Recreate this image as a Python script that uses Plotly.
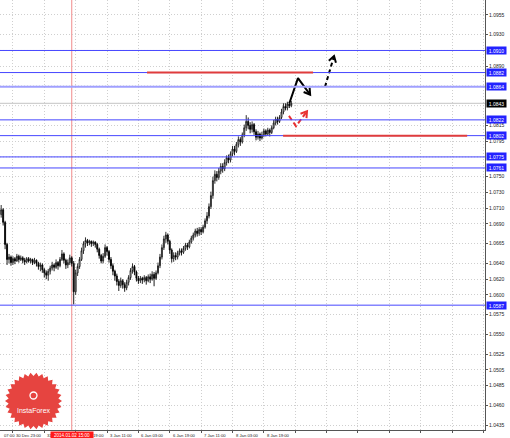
import math
import plotly.graph_objects as go

# ---------------- data (EURUSD H1) ----------------
first_open = 1.0702
closes = [
    1.0708, 1.0692, 1.0664, 1.0645, 1.0648, 1.0641, 1.0646, 1.0643, 1.0649, 1.0645,
    1.0647, 1.0644, 1.0642, 1.0646, 1.0643, 1.0645, 1.0641, 1.0644, 1.0640, 1.0636,
    1.0638, 1.0632, 1.0628, 1.0625, 1.0630, 1.0634, 1.0638, 1.0635, 1.0641, 1.0637,
    1.0645, 1.0652, 1.0644, 1.0638, 1.0641, 1.0647, 1.0640, 1.0604, 1.0628, 1.0636,
    1.0645, 1.0656, 1.0665, 1.0669, 1.0666, 1.0668, 1.0665, 1.0667, 1.0664, 1.0658,
    1.0650, 1.0643, 1.0649, 1.0660, 1.0655, 1.0645, 1.0637, 1.0630, 1.0624, 1.0617,
    1.0612, 1.0618, 1.0613, 1.0609, 1.0616, 1.0622, 1.0631, 1.0636, 1.0629, 1.0621,
    1.0618, 1.0621, 1.0619, 1.0622, 1.0618, 1.0623, 1.0620, 1.0626, 1.0621, 1.0628,
    1.0637, 1.0648, 1.0660, 1.0671, 1.0676, 1.0668, 1.0657, 1.0646, 1.0650, 1.0648,
    1.0653, 1.0656, 1.0654, 1.0659, 1.0663, 1.0661, 1.0667, 1.0672, 1.0676, 1.0681,
    1.0678, 1.0683, 1.0680, 1.0686, 1.0694, 1.0700, 1.0712, 1.0726, 1.0745, 1.0753,
    1.0749, 1.0757, 1.0763, 1.0760, 1.0768, 1.0774, 1.0771, 1.0779, 1.0785, 1.0782,
    1.0791, 1.0797, 1.0794, 1.0803, 1.0812, 1.0820, 1.0815, 1.0810, 1.0816, 1.0807,
    1.0800, 1.0804, 1.0799, 1.0803, 1.0808, 1.0804, 1.0809, 1.0806, 1.0812, 1.0818,
    1.0823, 1.0820, 1.0825, 1.0832, 1.0839, 1.0837, 1.0842, 1.0840, 1.0843]
highs = [
    1.0714, 1.0710, 1.0694, 1.0666, 1.0652, 1.0650, 1.0649, 1.0648, 1.0652, 1.0651,
    1.0650, 1.0649, 1.0647, 1.0648, 1.0648, 1.0647, 1.0646, 1.0647, 1.0645, 1.0642,
    1.0641, 1.0640, 1.0634, 1.0631, 1.0633, 1.0637, 1.0642, 1.0640, 1.0645, 1.0643,
    1.0648, 1.0657, 1.0654, 1.0646, 1.0645, 1.0651, 1.0649, 1.0643, 1.0632, 1.0640,
    1.0648, 1.0660, 1.0668, 1.0673, 1.0671, 1.0670, 1.0669, 1.0669, 1.0668, 1.0666,
    1.0660, 1.0652, 1.0653, 1.0664, 1.0662, 1.0657, 1.0648, 1.0640, 1.0632, 1.0627,
    1.0620, 1.0622, 1.0620, 1.0616, 1.0619, 1.0625, 1.0634, 1.0640, 1.0638, 1.0631,
    1.0624, 1.0624, 1.0623, 1.0625, 1.0624, 1.0626, 1.0627, 1.0630, 1.0629, 1.0631,
    1.0641, 1.0652, 1.0664, 1.0675, 1.0680, 1.0678, 1.0670, 1.0659, 1.0654, 1.0654,
    1.0656, 1.0659, 1.0659, 1.0662, 1.0666, 1.0666, 1.0670, 1.0675, 1.0679, 1.0684,
    1.0685, 1.0686, 1.0686, 1.0689, 1.0697, 1.0705, 1.0716, 1.0731, 1.0750, 1.0758,
    1.0757, 1.0761, 1.0767, 1.0767, 1.0772, 1.0777, 1.0778, 1.0782, 1.0789, 1.0789,
    1.0794, 1.0801, 1.0800, 1.0806, 1.0816, 1.0828, 1.0825, 1.0819, 1.0820, 1.0818,
    1.0810, 1.0808, 1.0806, 1.0807, 1.0811, 1.0810, 1.0812, 1.0811, 1.0815, 1.0822,
    1.0826, 1.0826, 1.0828, 1.0836, 1.0843, 1.0843, 1.0845, 1.0845, 1.0846]
lows = [
    1.0698, 1.0688, 1.0658, 1.0638, 1.0640, 1.0637, 1.0638, 1.0639, 1.0642, 1.0641,
    1.0643, 1.0640, 1.0638, 1.0640, 1.0641, 1.0640, 1.0638, 1.0639, 1.0636, 1.0632,
    1.0630, 1.0628, 1.0622, 1.0620, 1.0618, 1.0626, 1.0631, 1.0630, 1.0633, 1.0632,
    1.0635, 1.0643, 1.0640, 1.0633, 1.0634, 1.0638, 1.0636, 1.0588, 1.0600, 1.0624,
    1.0633, 1.0643, 1.0652, 1.0660, 1.0662, 1.0663, 1.0661, 1.0662, 1.0660, 1.0654,
    1.0646, 1.0640, 1.0640, 1.0647, 1.0650, 1.0641, 1.0633, 1.0625, 1.0618, 1.0612,
    1.0605, 1.0609, 1.0608, 1.0604, 1.0606, 1.0612, 1.0619, 1.0627, 1.0625, 1.0617,
    1.0614, 1.0615, 1.0614, 1.0616, 1.0613, 1.0616, 1.0615, 1.0618, 1.0611, 1.0619,
    1.0626, 1.0634, 1.0645, 1.0657, 1.0666, 1.0664, 1.0652, 1.0641, 1.0642, 1.0644,
    1.0645, 1.0650, 1.0650, 1.0652, 1.0656, 1.0657, 1.0659, 1.0665, 1.0669, 1.0673,
    1.0674, 1.0675, 1.0676, 1.0678, 1.0684, 1.0690, 1.0697, 1.0709, 1.0722, 1.0741,
    1.0744, 1.0746, 1.0753, 1.0755, 1.0757, 1.0764, 1.0767, 1.0768, 1.0776, 1.0777,
    1.0780, 1.0787, 1.0789, 1.0792, 1.0800, 1.0808, 1.0810, 1.0805, 1.0806, 1.0803,
    1.0796, 1.0797, 1.0795, 1.0797, 1.0800, 1.0801, 1.0802, 1.0801, 1.0804, 1.0810,
    1.0815, 1.0816, 1.0818, 1.0823, 1.0829, 1.0834, 1.0834, 1.0837, 1.0838]
opens = [first_open] + closes[:-1]
bars = list(range(len(closes)))

# time axis: grid bars (every 16 bars, continuing into the empty shift area)
grid_bars = [6, 22, 38, 54, 70, 86, 102, 118, 134, 150, 166, 182, 198, 214, 230, 246]
# label texts visible in the picture, with the bar where each text starts
time_label_bars = [6, 22, 45.3, 54, 70, 86, 102, 118, 134]
time_label_texts = ["30 Dec 23:00", "31", "19:00", "3 Jan 11:00",
                    "6 Jan 03:00", "6 Jan 19:00", "7 Jan 11:00", "8 Jan 03:00", "8 Jan 19:00"]
first_label_tail = "07:00"
cursor_bar = 36
cursor_label = "2014.01.02 15:00"

# price axis labels (grid also at the levels hidden behind the boxes)
price_ticks = [1.0955, 1.0930, 1.0890, 1.0815, 1.0795, 1.0750, 1.0730, 1.0710, 1.0690,
               1.0665, 1.0640, 1.0620, 1.0600, 1.0575, 1.0550, 1.0525, 1.0505, 1.0485,
               1.0460, 1.0435]
hidden_grid_prices = [1.0910, 1.0865, 1.0840, 1.0775]

# levels
blue_levels = [1.0910, 1.0882, 1.0864, 1.0822, 1.0802, 1.0775, 1.0761, 1.0587]
current_price = closes[-1]
resistance = (74.4, 159.1, 1.0882)
support = (143.8, 237.7, 1.0802)

# forecast sketches (bar, price)
black_solid_x = [147.0, 151.4, 157.6]
black_solid_y = [1.0843, 1.0875, 1.0854]
black_dash_x = [165.2, 169.8]
black_dash_y = [1.0864, 1.0903]
red_dash_x = [146.8, 150.4, 156.0]
red_dash_y = [1.0827, 1.0814, 1.0833]

# ---------------- geometry ----------------
W, H = 510, 438
ML, MR, MT, MB = 0, 25, 0, 8
PW, PH = W - ML - MR, H - MT - MB
XR = [-0.6, 246.8]
YR = [1.04287, 1.09740]
ppb = PW / (XR[1] - XR[0])
ppp = PH / (YR[1] - YR[0])
GRID = "#cfcfcf"
GDASH = "1px,2px"

fig = go.Figure()

fig.add_trace(go.Candlestick(
    x=bars, open=opens, high=highs, low=lows, close=closes,
    increasing=dict(line=dict(color="#1a1a1a", width=0.9), fillcolor="#ffffff"),
    decreasing=dict(line=dict(color="#000000", width=0.9), fillcolor="#000000"),
    whiskerwidth=0, hoverinfo="skip", showlegend=False))

shapes = []
for gp in hidden_grid_prices:
    shapes.append(dict(type="line", xref="paper", yref="y", x0=0, x1=1, y0=gp, y1=gp,
                       line=dict(color=GRID, width=1, dash=GDASH), layer="below"))
for lv in blue_levels:
    thick = abs(lv - 1.0864) < 1e-9
    shapes.append(dict(type="line", xref="paper", yref="y", x0=0, x1=1, y0=lv, y1=lv,
                       line=dict(color="#a0a0ff" if thick else "#4646ff",
                                 width=2 if thick else 1), layer="above"))
shapes.append(dict(type="line", xref="paper", yref="y", x0=0, x1=1,
                   y0=current_price, y1=current_price,
                   line=dict(color="#c4c4c4", width=1), layer="below"))
for (xa, xb, lv) in (resistance, support):
    shapes.append(dict(type="line", xref="x", yref="y", x0=xa, x1=xb, y0=lv, y1=lv,
                       line=dict(color="#e03c3c", width=2)))
shapes.append(dict(type="line", xref="x", yref="paper", x0=cursor_bar, x1=cursor_bar,
                   y0=0, y1=1, line=dict(color="#f08a8a", width=1), layer="below"))

# InstaForex badge (decoration)
cx, cy, ro, ri, nt = 33.5, 401.0, 28.5, 25.0, 30
pts = []
for k in range(2 * nt):
    a = math.pi * k / nt
    r = ro if k % 2 == 0 else ri
    px_, py_ = cx + r * math.cos(a), cy + r * math.sin(a)
    pts.append(((px_ - ML) / PW, (MT + PH - py_) / PH))
path = "M " + " L ".join(f"{p[0]:.5f},{p[1]:.5f}" for p in pts) + " Z"
shapes.append(dict(type="path", xref="paper", yref="paper", path=path,
                   fillcolor="#e64440", line=dict(width=0), layer="above"))
shapes.append(dict(type="circle", xref="paper", yref="paper",
                   x0=(cx - 3.5) / PW, x1=(cx + 3.5) / PW,
                   y0=(PH - (cy - 2)) / PH, y1=(PH - (cy - 9)) / PH,
                   line=dict(color="white", width=1.3), layer="above"))


def add_path(xs, ys, color, dash, width):
    fig.add_trace(go.Scatter(x=xs, y=ys, mode="lines", hoverinfo="skip", showlegend=False,
                             line=dict(color=color, dash=dash, width=width)))
    x1, y1, x0, y0 = xs[-1], ys[-1], xs[-2], ys[-2]
    dx, dy = (x1 - x0) * ppb, (y1 - y0) * ppp
    L = math.hypot(dx, dy)
    ux, uy = -dx / L, -dy / L
    wx, wy = [], []
    for sgn in (1, -1):
        ang = sgn * math.radians(32)
        rx = ux * math.cos(ang) - uy * math.sin(ang)
        ry = ux * math.sin(ang) + uy * math.cos(ang)
        wx.append(x1 + 7 * rx / ppb)
        wy.append(y1 + 7 * ry / ppp)
    fig.add_trace(go.Scatter(x=[wx[0], x1, wx[1]], y=[wy[0], y1, wy[1]], mode="lines",
                             hoverinfo="skip", showlegend=False,
                             line=dict(color=color, width=width)))


add_path(black_solid_x, black_solid_y, "#000000", "solid", 2)
add_path(black_dash_x, black_dash_y, "#000000", "4px,3px", 2)
add_path(red_dash_x, red_dash_y, "#e83030", "5px,3px", 2)

annotations = []
FONT = "Liberation Sans, Arial, sans-serif"
for b, t in zip(time_label_bars, time_label_texts):
    annotations.append(dict(x=b, xref="x", y=0, yref="paper", yanchor="top", xanchor="left",
                            text=t, showarrow=False, xshift=1, yshift=-1,
                            font=dict(family=FONT, size=4.2, color="#222222")))
annotations.append(dict(x=2 / PW, xref="paper", y=0, yref="paper", yanchor="top",
                        xanchor="left", text=first_label_tail, showarrow=False, yshift=-1,
                        font=dict(family=FONT, size=4.2, color="#222222")))
annotations.append(dict(x=cursor_bar, xref="x", y=0, yref="paper", yanchor="top",
                        xanchor="center", text=cursor_label, showarrow=False, yshift=-0.5,
                        bgcolor="#ff1a1a", borderpad=1, width=40,
                        font=dict(family=FONT, size=4.6, color="white")))
for lv in blue_levels:
    annotations.append(dict(x=1, xref="paper", y=lv, yref="y", xanchor="left", yanchor="middle",
                            text=f"{lv:.4f}", showarrow=False, xshift=1, bgcolor="#2222ff",
                            borderpad=0.6, width=18,
                            font=dict(family=FONT, size=5, color="white")))
annotations.append(dict(x=1, xref="paper", y=current_price, yref="y", xanchor="left",
                        yanchor="middle", text=f"{current_price:.4f}", showarrow=False, xshift=1,
                        bgcolor="#000000", borderpad=0.6, width=18,
                        font=dict(family=FONT, size=5, color="white")))
annotations.append(dict(x=cx / PW, xref="paper", y=(PH - 410) / PH, yref="paper",
                        text="InstaForex", showarrow=False, xanchor="center", yanchor="middle",
                        font=dict(family=FONT, size=7, color="white")))

fig.update_layout(
    width=W, height=H, margin=dict(l=ML, r=MR, t=MT, b=MB, autoexpand=False),
    paper_bgcolor="white", plot_bgcolor="white", showlegend=False,
    shapes=shapes, annotations=annotations, hovermode=False,
    xaxis=dict(range=XR, rangeslider=dict(visible=False), tickvals=grid_bars,
               showticklabels=False, ticks="outside", ticklen=2, tickcolor="#555555",
               showgrid=True, gridcolor=GRID, griddash=GDASH, gridwidth=1,
               showline=True, linecolor="#555555", linewidth=1, zeroline=False,
               automargin=False),
    yaxis=dict(range=YR, side="right", tickvals=price_ticks,
               ticktext=[f"{v:.4f}" for v in price_ticks],
               ticks="outside", ticklen=2, tickcolor="#555555",
               tickfont=dict(family=FONT, size=5, color="#222222"),
               showgrid=True, gridcolor=GRID, griddash=GDASH, gridwidth=1,
               showline=True, linecolor="#555555", linewidth=1, zeroline=False,
               automargin=False),
)

fig.write_html("out.html", config={"displayModeBar": False},
               post_script="document.body.style.margin='0';document.body.style.overflow='hidden';")
